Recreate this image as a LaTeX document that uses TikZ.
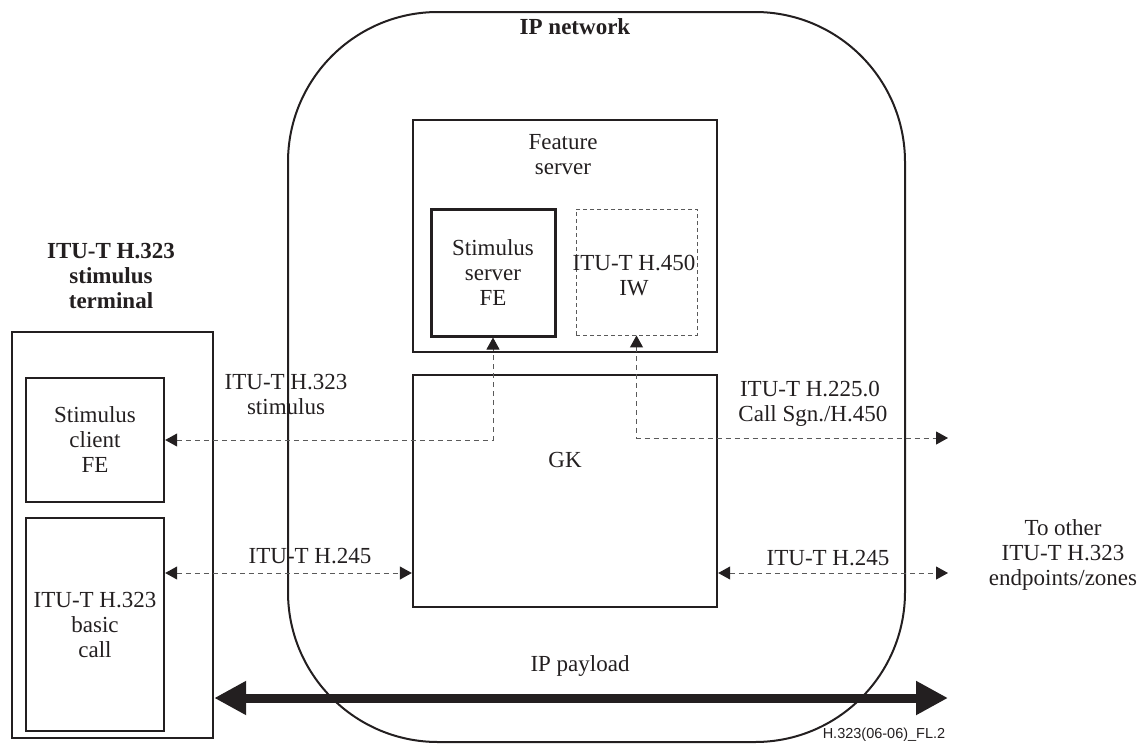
\documentclass[tikz,border=0pt]{standalone}
\usepackage{fontspec}
\setmainfont{Liberation Serif}
\newfontfamily\footfont{Liberation Sans}
\usetikzlibrary{arrows.meta}
\definecolor{ink}{HTML}{231F20}
\definecolor{dashgray}{HTML}{5A5A5A}
\tikzset{
  txt/.style={font=\fontsize{23}{25}\selectfont, text=ink, align=center, inner sep=0pt},
  btxt/.style={font=\fontsize{23}{25}\selectfont\bfseries, text=ink, align=center, inner sep=0pt},
  box/.style={draw=ink, line width=2.4pt, inner sep=0pt, txt},
  dbox/.style={draw=dashgray, line width=0.9pt, dash pattern=on 4pt off 3pt, inner sep=0pt},
  conn/.style={draw=dashgray, line width=1pt, dash pattern=on 5pt off 4pt,
     {Triangle[length=12pt,width=13pt,color=ink]}-{Triangle[length=12pt,width=13pt,color=ink]}},
  payload/.style={draw=ink, line width=9pt,
     {Triangle[length=32pt,width=32pt]}-{Triangle[length=32pt,width=32pt]}},
}
\begin{document}
\begin{tikzpicture}[x=1pt,y=-1pt]
\useasboundingbox (0,0) rectangle (1145,744);
% IP network
\draw[ink, line width=2pt, rounded corners=150pt] (288,12) rectangle (905,742);
\node[btxt] (ipnet) at (575,27) {IP network};
% terminal
\node[btxt] (termlabel) at (111,276) {ITU-T H.323\\stimulus\\terminal};
\node[box, minimum width=201pt, minimum height=406pt] (term) at (112.5,535) {};
\node[box, minimum width=138pt, minimum height=124pt] (client) at (95,440) {Stimulus\\client\\FE};
\node[box, minimum width=138pt, minimum height=213pt] (basic) at (95,624.5) {ITU-T H.323\\basic\\call};
% feature server
\node[box, minimum width=304pt, minimum height=232pt] (fs) at (565,236) {};
\node[txt] (fslabel) at (563,155) {Feature\\server};
\node[box, line width=3pt, minimum width=124pt, minimum height=127pt] (ssfe) at (493,272.5) {Stimulus\\server\\FE};
\node[dbox, minimum width=121pt, minimum height=126pt] (iw) at (636.5,272) {};
\node[txt] (iwlabel) at (634,276) {ITU-T H.450\\IW};
% GK
\node[box, minimum width=304pt, minimum height=232pt] (gk) at (565,491) {};
\node[txt] (gklabel) at (565,460) {GK};
% free ends
\coordinate (r1) at (948,438);
\coordinate (h245y) at (0,573);
\coordinate (r2) at (948,573);
\coordinate (payy) at (0,698);
\coordinate (r3) at (948,698);
% connectors
\draw[conn] (client.east) -| (ssfe.south);
\draw[conn] (iw.south) |- (r1);
\draw[conn] (basic.east |- h245y) -- (gk.west |- h245y);
\draw[conn] (gk.east |- h245y) -- (r2);
\draw[payload] (term.east |- payy) -- (r3);
% labels
\node[txt] (lstim) at (286,394) {ITU-T H.323\\stimulus};
\node[txt] (lh225) at (810,404) {ITU-T H.225.0\\\ Call Sgn./H.450};
\node[txt] (lh245a) at (310,556) {ITU-T H.245};
\node[txt] (lh245b) at (828,558) {ITU-T H.245};
\node[txt] (lpay) at (580,666) {IP payload};
\node[txt] (lother) at (1063,555) {To other\\ITU-T H.323\\endpoints/zones};
\node[font=\footfont\fontsize{14.5}{16}\selectfont, text=ink, inner sep=0pt] (foot) at (884,735) {H.323(06-06)\_FL.2};
\end{tikzpicture}
\end{document}
